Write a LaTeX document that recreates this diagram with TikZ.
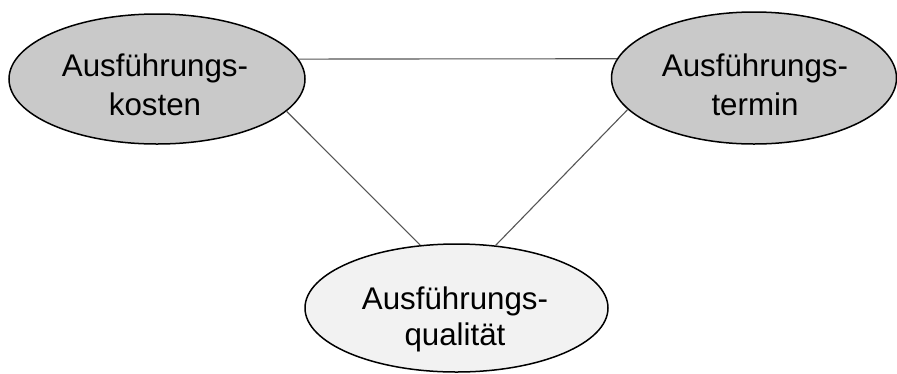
\documentclass[tikz,border=0pt]{standalone}
\usepackage{fontspec}
\setmainfont{Liberation Sans}
\usetikzlibrary{shapes.geometric}
\definecolor{goalgray}{RGB}{201,201,201}
\definecolor{goallight}{RGB}{242,242,242}
\definecolor{linkgray}{RGB}{85,85,85}
\tikzset{
  goal/.style={ellipse, draw=black, line width=1.5pt, inner sep=0pt},
  goaltext/.style={align=center, inner sep=0pt, font=\fontsize{31.3}{39}\selectfont},
  link/.style={draw=linkgray, line width=1.1pt}
}
\begin{document}
\begin{tikzpicture}[x=1pt,y=-1pt]
  \useasboundingbox (0,0) rectangle (897,373);
  % the three targets of the building contract
  \node[goal, fill=goalgray, minimum width=296pt, minimum height=130pt] (k) at (157,79) {};
  \node[goal, fill=goalgray, minimum width=285pt, minimum height=132pt] (t) at (754,78) {};
  \node[goal, fill=goallight, minimum width=303pt, minimum height=128pt] (q) at (456.5,308) {};
  \node[goaltext] (kt) at (155,85) {Ausführungs-\\kosten};
  \node[goaltext] (tt) at (755,84.8) {Ausführungs-\\termin};
  \node[goaltext, font=\fontsize{31.3}{36}\selectfont] (qt) at (455,319) {Ausführungs-\\qualität};
  % connecting lines of the triangle
  \draw[link] (k.8) -- (t.172);
  \draw[link] (k.-14) -- (q.120);
  \draw[link] (t.194) -- (q.58);
\end{tikzpicture}
\end{document}
